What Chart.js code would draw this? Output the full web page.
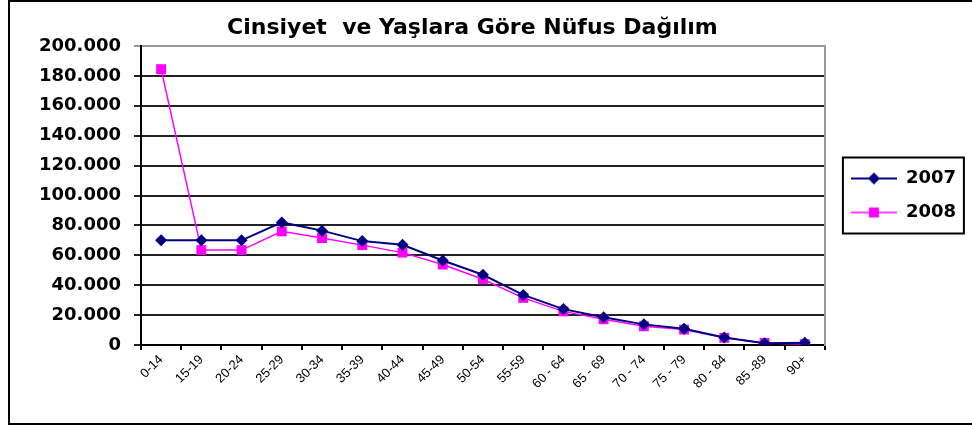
<!DOCTYPE html>
<html><head><meta charset="utf-8">
<script src="https://cdn.jsdelivr.net/npm/chart.js@4"></script>
<style>
html,body{margin:0;padding:0;background:#fff;overflow:hidden;width:972px;height:425px}
#frame{position:absolute;left:8px;top:0;width:990px;height:421px;border:2px solid #000}
#c{position:absolute;left:0;top:0}
</style></head><body>
<div id="frame"></div>
<canvas id="c" width="972" height="425"></canvas>
<script>
const TITLE = 'Cinsiyet  ve Yaşlara Göre Nüfus Dağılım';
const AGE_GROUPS = ['0-14','15-19','20-24','25-29','30-34','35-39','40-44','45-49','50-54','55-59','60 - 64','65 - 69','70 - 74','75 - 79','80 - 84','85 -89','90+'];
const SERIES_NAMES = ['2007','2008'];
const VALUES_2007 = [70000,70000,70000,82000,76500,69500,67000,56500,47000,33500,24000,18500,13800,10800,5000,1200,1500];
const VALUES_2008 = [184500,63500,63500,76000,71500,66800,61800,53800,44000,31500,22500,17200,12500,10300,4800,1400,600];
const Y_MIN = 0, Y_MAX = 200000, Y_STEP = 20000;

const NAVY = '#000080', MAGENTA = '#FF00FF';
const FONT = 'DejaVu Sans';

function fmt(v){ return String(v).replace(/\B(?=(\d{3})+(?!\d))/g,'.'); }

function legendIcon(color, style, r, lw){
  const c = document.createElement('canvas');
  c.width = 46; c.height = 16;
  const g = c.getContext('2d');
  g.strokeStyle = color; g.lineWidth = lw;
  g.beginPath(); g.moveTo(0,8); g.lineTo(46,8); g.stroke();
  g.fillStyle = color;
  if (style === 'rectRot'){
    g.beginPath(); g.moveTo(23,8-r); g.lineTo(23+r,8); g.lineTo(23,8+r); g.lineTo(23-r,8); g.closePath(); g.fill();
  } else {
    const s = r*Math.SQRT1_2;
    g.fillRect(23-s,8-s,2*s,2*s);
  }
  return c;
}

const titlePlugin = {
  id:'titleText',
  afterDraw(chart){
    const ctx = chart.ctx;
    ctx.save();
    ctx.font = 'bold 22px "'+FONT+'"';
    ctx.fillStyle = '#000';
    ctx.textAlign = 'center';
    ctx.textBaseline = 'middle';
    ctx.fillText(TITLE, chart.width*0.486, 28);
    ctx.restore();
  }
};
const legendBox = {
  id:'legendBox',
  afterDraw(chart){
    const lg = chart.legend;
    if(!lg || !lg.legendHitBoxes.length) return;
    const hb = lg.legendHitBoxes;
    const top = hb[0].top - 12, bottom = hb[hb.length-1].top + hb[hb.length-1].height + 12;
    const ctx = chart.ctx;
    ctx.save();
    ctx.strokeStyle = '#000'; ctx.lineWidth = 2;
    ctx.strokeRect(lg.left + 8, top, 121, bottom - top);
    ctx.restore();
  }
};

const datasets = [
  {label:SERIES_NAMES[0], data:VALUES_2007, borderColor:NAVY, backgroundColor:NAVY, borderWidth:2,
   pointStyle:'rectRot', pointRadius:6, pointHoverRadius:6, pointBorderWidth:0, tension:0, yAxisID:'y'},
  {label:SERIES_NAMES[1], data:VALUES_2008, borderColor:MAGENTA, backgroundColor:MAGENTA, borderWidth:1.5,
   pointStyle:'rect', pointRadius:7, pointHoverRadius:7, pointBorderWidth:0, tension:0, yAxisID:'y'}
];
const icons = [legendIcon(NAVY,'rectRot',6,2), legendIcon(MAGENTA,'rect',7,1.5)];

new Chart(document.getElementById('c'), {
  type:'line',
  data:{labels:AGE_GROUPS, datasets},
  plugins:[titlePlugin, legendBox],
  options:{
    responsive:false, animation:false, devicePixelRatio:1,
    layout:{padding:{left:0, right:6, top:46, bottom:0}},
    plugins:{
      title:{display:false},
      tooltip:{enabled:false},
      legend:{
        position:'right', fullSize:false,
        labels:{
          usePointStyle:true, pointStyleWidth:46, padding:16,
          color:'#000', font:{family:FONT, weight:'bold', size:18, lineHeight:1.05},
          sort:(a,b)=>a.datasetIndex-b.datasetIndex,
          generateLabels(chart){
            const items = Chart.defaults.plugins.legend.labels.generateLabels(chart);
            items.forEach(it=>{ it.pointStyle = icons[it.datasetIndex]; it.lineWidth = 0; });
            return items;
          }
        }
      }
    },
    scales:{
      x:{
        offset:true,
        grid:{offset:true, drawOnChartArea:false, drawTicks:true, tickLength:5, color:'#000', lineWidth:2},
        border:{color:'#000', width:2},
        ticks:{color:'#000', font:{family:'Liberation Sans', size:13}, minRotation:45, maxRotation:45, autoSkip:false, padding:2},
        afterFit(s){ s.height = 80; }
      },
      y:{
        min:Y_MIN, max:Y_MAX,
        grid:{color:(c)=> (c.tick && c.tick.value===Y_MAX) ? '#999' : '#222', lineWidth:2, tickLength:7},
        border:{color:'#000', width:2},
        ticks:{stepSize:Y_STEP, color:'#000', font:{family:FONT, weight:'bold', size:18}, padding:13, callback:(v)=>fmt(v)},
        afterFit(s){ s.width = 141; }
      },
      y2:{
        position:'right', min:0, max:1,
        grid:{display:false, drawTicks:false},
        ticks:{display:false},
        border:{color:'#999', width:2},
        afterFit(s){ s.width = 10; }
      }
    }
  }
});
</script>
</body></html>
